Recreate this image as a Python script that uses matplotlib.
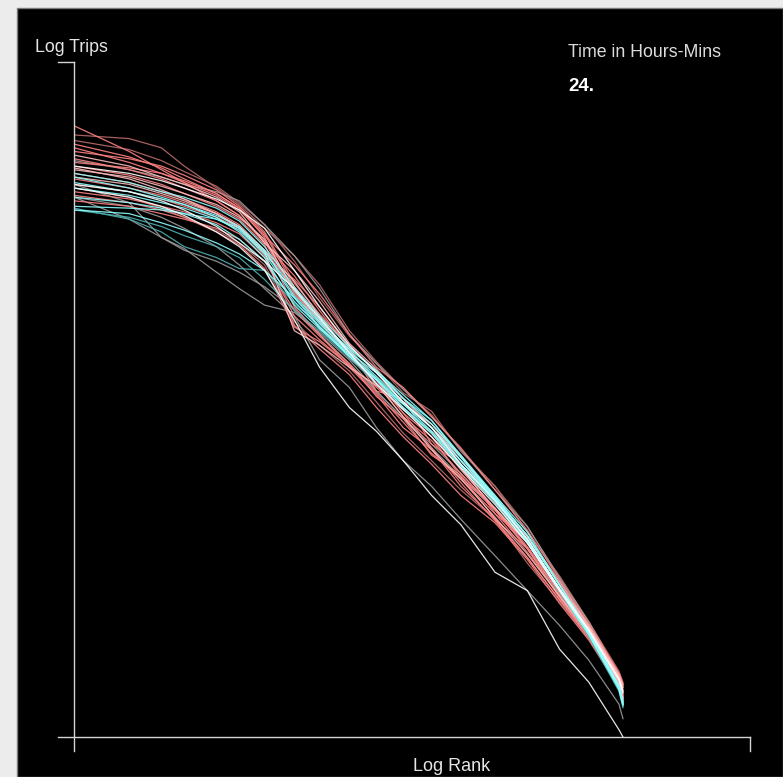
import matplotlib
matplotlib.use("Agg")
import matplotlib.pyplot as plt
import numpy as np
from matplotlib.patches import Rectangle

# ---------------- data (log10 rank on x, log10 trips on y) ----------------
ranks = [1, 2, 3, 4, 6, 8, 11, 16, 22, 32, 45, 63, 90, 130, 200, 300, 450, 650, 950, 1000]

pink_01 = [3.34, 3.20, 3.10, 3.03, 2.93, 2.85, 2.70, 2.52, 2.33, 2.12, 1.95, 1.77, 1.58, 1.39, 1.18, 0.98, 0.75, 0.55, 0.29, 0.20]
pink_02 = [3.29, 3.27, 3.22, 3.12, 3.00, 2.91, 2.78, 2.63, 2.47, 2.22, 2.05, 1.90, 1.76, 1.57, 1.37, 1.15, 0.87, 0.63, 0.36, 0.30]
pink_03 = [3.22, 3.14, 3.08, 3.03, 2.96, 2.88, 2.74, 2.58, 2.42, 2.20, 2.02, 1.91, 1.75, 1.58, 1.35, 1.13, 0.86, 0.62, 0.35, 0.29]
pink_04 = [3.16, 3.10, 3.05, 3.00, 2.93, 2.85, 2.71, 2.42, 2.28, 2.07, 1.95, 1.77, 1.64, 1.42, 1.25, 1.04, 0.80, 0.57, 0.31, 0.24]
pink_05 = [3.12, 3.07, 3.02, 2.97, 2.90, 2.83, 2.69, 2.35, 2.20, 2.02, 1.87, 1.69, 1.57, 1.37, 1.19, 0.98, 0.75, 0.54, 0.28, 0.21]
pink_06 = [3.08, 3.03, 2.98, 2.94, 2.87, 2.80, 2.66, 2.45, 2.23, 2.12, 1.89, 1.85, 1.60, 1.49, 1.22, 1.07, 0.79, 0.59, 0.31, 0.23]
pink_07 = [3.05, 3.00, 2.96, 2.92, 2.86, 2.79, 2.64, 2.25, 2.12, 1.98, 1.80, 1.64, 1.49, 1.32, 1.17, 0.97, 0.73, 0.53, 0.27, 0.19]
pink_08 = [3.02, 2.98, 2.94, 2.90, 2.84, 2.78, 2.63, 2.50, 2.35, 2.13, 2.00, 1.82, 1.71, 1.51, 1.32, 1.09, 0.84, 0.60, 0.34, 0.29]
pink_09 = [2.98, 2.94, 2.90, 2.87, 2.81, 2.75, 2.62, 2.30, 2.17, 2.03, 1.88, 1.72, 1.55, 1.41, 1.22, 1.01, 0.77, 0.55, 0.28, 0.22]
pink_10 = [2.93, 2.90, 2.86, 2.83, 2.78, 2.72, 2.60, 2.33, 2.19, 2.04, 1.86, 1.74, 1.54, 1.43, 1.19, 1.03, 0.76, 0.55, 0.29, 0.22]
pink_11 = [3.18, 3.12, 3.06, 3.02, 2.95, 2.87, 2.70, 2.55, 2.38, 2.15, 2.01, 1.85, 1.69, 1.53, 1.30, 1.10, 0.85, 0.61, 0.34, 0.28]
pink_12 = [3.10, 3.06, 3.01, 2.97, 2.91, 2.84, 2.72, 2.44, 2.29, 2.09, 1.93, 1.79, 1.66, 1.46, 1.25, 1.06, 0.81, 0.58, 0.32, 0.25]
pink_13 = [3.06, 3.02, 2.97, 2.93, 2.86, 2.78, 2.65, 2.22, 2.14, 2.02, 1.92, 1.82, 1.71, 1.54, 1.31, 1.10, 0.83, 0.60, 0.33, 0.27]
pink_14 = [3.26, 3.21, 3.15, 3.09, 3.01, 2.92, 2.80, 2.60, 2.40, 2.19, 2.04, 1.88, 1.78, 1.56, 1.37, 1.12, 0.88, 0.63, 0.35, 0.29]
pink_15 = [3.20, 3.16, 3.12, 3.07, 2.99, 2.90, 2.76, 2.48, 2.31, 2.14, 1.99, 1.83, 1.69, 1.49, 1.30, 1.10, 0.83, 0.61, 0.33, 0.28]
pink_16 = [3.14, 3.11, 3.08, 3.04, 2.97, 2.89, 2.75, 2.46, 2.26, 2.10, 1.92, 1.80, 1.64, 1.47, 1.24, 1.06, 0.80, 0.58, 0.30, 0.22]
pink_17 = [3.00, 2.95, 2.89, 2.84, 2.77, 2.70, 2.58, 2.27, 2.14, 2.00, 1.83, 1.66, 1.51, 1.35, 1.19, 0.95, 0.74, 0.54, 0.28, 0.20]
pink_18 = [2.96, 2.92, 2.88, 2.84, 2.76, 2.69, 2.56, 2.24, 2.16, 2.03, 1.91, 1.79, 1.67, 1.51, 1.30, 1.08, 0.81, 0.59, 0.32, 0.26]
pink_19 = [3.11, 3.05, 2.99, 2.94, 2.86, 2.79, 2.66, 2.49, 2.30, 2.10, 1.93, 1.75, 1.57, 1.41, 1.20, 1.00, 0.77, 0.56, 0.30, 0.21]
pink_20 = [3.24, 3.17, 3.11, 3.05, 2.97, 2.89, 2.73, 2.43, 2.27, 2.08, 1.93, 1.75, 1.62, 1.44, 1.24, 1.03, 0.79, 0.56, 0.30, 0.23]

cyan_01 = [2.90, 2.89, 2.88, 2.86, 2.83, 2.78, 2.65, 2.44, 2.28, 2.11, 1.97, 1.83, 1.69, 1.51, 1.30, 1.08, 0.81, 0.57, 0.27, 0.18]
cyan_02 = [2.89, 2.83, 2.76, 2.68, 2.62, 2.56, 2.55, 2.37, 2.25, 2.09, 1.96, 1.80, 1.67, 1.49, 1.29, 1.07, 0.80, 0.56, 0.26, 0.17]
cyan_03 = [2.88, 2.86, 2.81, 2.77, 2.70, 2.64, 2.55, 2.40, 2.26, 2.10, 1.99, 1.85, 1.71, 1.53, 1.31, 1.10, 0.83, 0.58, 0.28, 0.19]
cyan_04 = [3.03, 2.98, 2.94, 2.91, 2.85, 2.79, 2.66, 2.41, 2.27, 2.12, 2.00, 1.87, 1.73, 1.54, 1.32, 1.12, 0.83, 0.58, 0.28, 0.20]
cyan_05 = [3.00, 2.96, 2.92, 2.89, 2.83, 2.77, 2.64, 2.40, 2.24, 2.08, 1.95, 1.80, 1.66, 1.48, 1.28, 1.06, 0.80, 0.56, 0.27, 0.18]
cyan_06 = [2.95, 2.92, 2.89, 2.86, 2.80, 2.72, 2.60, 2.38, 2.24, 2.09, 1.96, 1.82, 1.69, 1.51, 1.30, 1.07, 0.80, 0.56, 0.26, 0.17]
cyan_07 = [2.88, 2.84, 2.79, 2.74, 2.68, 2.62, 2.50, 2.33, 2.22, 2.07, 1.93, 1.79, 1.66, 1.48, 1.29, 1.07, 0.80, 0.55, 0.25, 0.16]
cyan_08 = [3.08, 3.03, 2.98, 2.95, 2.89, 2.82, 2.68, 2.46, 2.30, 2.13, 2.00, 1.85, 1.73, 1.53, 1.31, 1.10, 0.83, 0.58, 0.28, 0.19]
cyan_09 = [3.06, 3.00, 2.95, 2.91, 2.84, 2.76, 2.62, 2.36, 2.23, 2.08, 1.95, 1.82, 1.67, 1.49, 1.30, 1.08, 0.81, 0.57, 0.27, 0.18]

grey_01 = [3.02, 2.92, 2.73, 2.66, 2.60, 2.54, 2.46, 2.34, 2.20, 2.04, 1.89, 1.74, 1.60, 1.44, 1.24, 1.03, 0.78, 0.56, 0.29, 0.21]
grey_02 = [3.02, 2.98, 2.93, 2.88, 2.79, 2.70, 2.60, 2.45, 2.29, 2.10, 1.93, 1.79, 1.64, 1.47, 1.27, 1.06, 0.80, 0.58, 0.31, 0.24]
grey_03 = [2.95, 2.83, 2.73, 2.67, 2.54, 2.45, 2.36, 2.32, 2.21, 2.06, 1.89, 1.74, 1.58, 1.42, 1.24, 1.03, 0.78, 0.56, 0.28, 0.21]
grey_04 = [3.12, 3.08, 3.04, 3.00, 2.94, 2.88, 2.78, 2.55, 2.35, 2.14, 1.99, 1.83, 1.69, 1.49, 1.29, 1.08, 0.81, 0.59, 0.32, 0.25]
grey_05 = [3.15, 3.10, 3.06, 3.02, 2.98, 2.93, 2.80, 2.63, 2.45, 2.20, 2.04, 1.90, 1.75, 1.57, 1.35, 1.15, 0.87, 0.63, 0.34, 0.27]
grey_06 = [2.95, 2.90, 2.84, 2.78, 2.68, 2.58, 2.45, 2.30, 2.06, 1.91, 1.69, 1.51, 1.37, 1.19, 0.99, 0.80, 0.61, 0.42, 0.18, 0.10]
white_01 = [3.00, 2.95, 2.90, 2.85, 2.76, 2.68, 2.55, 2.28, 2.02, 1.80, 1.67, 1.51, 1.32, 1.16, 0.90, 0.80, 0.48, 0.30, 0.04, 0.00]

# ---------------- styles ----------------
DARK_PINK = "#b86a6a"
PINK = "#ff8282"
LIGHT_PINK = "#ffbcbc"
CYAN = "#8cffff"
TEAL = "#4fb0b0"
GREY = "#9a9a9a"
WHITE = "#ffffff"

layers = [
    (pink_02, DARK_PINK), (pink_14, DARK_PINK), (pink_17, DARK_PINK),
    (grey_05, GREY), (grey_01, GREY), (grey_03, GREY), (grey_06, GREY),
    (pink_01, PINK), (pink_03, PINK), (pink_04, PINK), (pink_05, PINK), (pink_06, PINK),
    (pink_07, PINK), (pink_08, PINK), (pink_09, PINK), (pink_10, PINK),
    (pink_15, PINK), (pink_16, PINK), (pink_18, PINK), (pink_20, PINK),
    (pink_11, LIGHT_PINK), (pink_12, LIGHT_PINK), (pink_13, LIGHT_PINK), (pink_19, LIGHT_PINK),
    (cyan_07, TEAL), (cyan_02, TEAL),
    (cyan_01, CYAN), (cyan_03, CYAN), (cyan_04, CYAN), (cyan_05, CYAN), (cyan_06, CYAN),
    (cyan_08, CYAN), (cyan_09, CYAN),
    (grey_02, WHITE), (grey_04, WHITE), (white_01, WHITE),
]

W, H = 783, 777
fig = plt.figure(figsize=(W / 100, H / 100), dpi=100, facecolor="#ececec")

# black panel
fig.patches.append(Rectangle((17 / W, 0), (W - 17) / W, (H - 8) / H,
                             transform=fig.transFigure, facecolor="black",
                             edgecolor="#7a7a7a", linewidth=1.0, zorder=-5))

# axes: x 74..750 px, y 737..62 px
ax = fig.add_axes([74 / W, (H - 737) / H, 676 / W, 675 / H])
ax.set_zorder(5)
ax.set_facecolor("none")
ax.patch.set_alpha(0)
ax.set_xlim(0, 676 / 183)
ax.set_ylim(0, 675 / 183)
for s in ax.spines.values():
    s.set_visible(False)
ax.set_xticks([])
ax.set_yticks([])

logx = np.log10(np.array(ranks, dtype=float))
for vals, col in layers:
    ax.plot(logx, vals, color=col, lw=0.9, alpha=0.9, solid_joinstyle="miter")

# axis frame lines (in axes fraction)
ax_col = "#d4d4d4"
tx = 16 / 676
ty = 14 / 675
ax.plot([0, 0], [-ty, 1], color=ax_col, lw=1.0, transform=ax.transAxes, clip_on=False)
ax.plot([-tx, 0], [1, 1], color=ax_col, lw=1.0, transform=ax.transAxes, clip_on=False)
ax.plot([-tx, 1], [0, 0], color=ax_col, lw=1.0, transform=ax.transAxes, clip_on=False)
ax.plot([1, 1], [0, -ty], color=ax_col, lw=1.0, transform=ax.transAxes, clip_on=False)

font = "Liberation Sans"
fig.text(35 / W, 1 - 52 / H, "Log Trips", color="#e6e6e6", fontsize=12.8,
         family=font, ha="left", va="baseline", zorder=6)
fig.text(452 / W, 1 - 771 / H, "Log Rank", color="#e6e6e6", fontsize=13,
         family=font, ha="center", va="baseline", zorder=6)
fig.text(568 / W, 1 - 57 / H, "Time in Hours-Mins", color="#dcdcdc", fontsize=12.8,
         family=font, ha="left", va="baseline", zorder=6)
fig.text(568 / W, 1 - 91 / H, "24.", color="white", fontsize=13.5,
         family=font, fontweight="bold", ha="left", va="baseline", zorder=6)

fig.savefig("out.png", dpi=100, facecolor=fig.get_facecolor())
